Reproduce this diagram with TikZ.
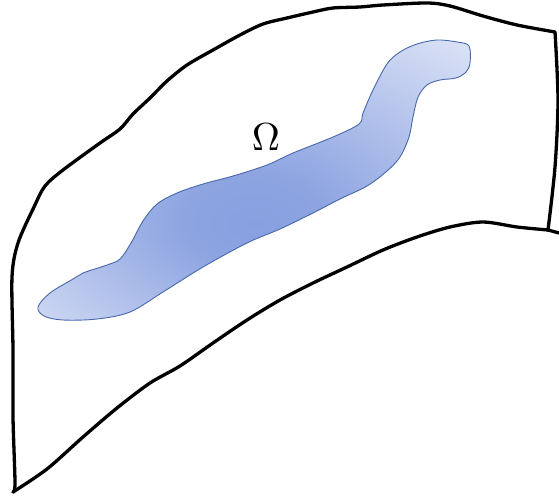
\documentclass[tikz,border=0pt]{standalone}
\usetikzlibrary{shadings}
\definecolor{blobdark}{RGB}{136,160,224}
\definecolor{bloblight}{RGB}{220,227,246}
\definecolor{blobline}{RGB}{72,104,172}
\pgfdeclareradialshading{blobshade}{\pgfpoint{0bp}{-8bp}}{color(0bp)=(blobdark); color(8bp)=(blobdark!94!bloblight); color(38bp)=(bloblight); color(70bp)=(bloblight)}
\tikzset{
  sheet/.style={line width=3.3pt, black, line join=round, line cap=round},
  blob/.style={draw=blobline, line width=0.9pt, shading=blobshade},
}
\begin{document}
\begin{tikzpicture}[x=1pt,y=-1pt]
\useasboundingbox (0,0) rectangle (559,500);
% blob
\path[blob] plot[smooth cycle, tension=0.55] coordinates {
 (38,307) (50,293) (73,279) (83,273) (107,265) (120,259) (131,243) (143,221)
 (157,204) (177,193) (203,184) (233,176) (267,165) (293,153) (333,137)
 (359,124) (363,113) (373,90) (387,64) (400,52) (417,44) (437,40) (457,42)
 (469,46) (470,63) (466,72) (456,78) (440,80) (427,85) (418,97) (413,117)
 (409,137) (400,157) (387,171) (367,186) (340,199) (313,213) (280,229)
 (247,243) (203,267) (163,292) (130,312) (97,319) (63,320) (44,316)
};
% sheet outline
\draw[sheet] plot[smooth, tension=0.5] coordinates {
 (555,32) (517,25) (483,16) (450,6) (427,3) (383,5) (360,7) (333,8) (313,12)
 (287,18) (263,24) (240,35) (213,50) (187,65) (167,81) (150,98) (133,114)
 (120,129) (100,143) (63,170) (45,186) (34,207) (18,243) (12,277) (13,350)
 (13,417) (15,483) (13,492)};
\draw[sheet] plot[smooth, tension=0.5] coordinates {
 (13,492) (47,469) (83,437) (117,408) (150,383) (180,366) (213,343) (247,320)
 (280,300) (313,283) (347,267) (383,250) (417,237) (450,227) (483,222)
 (517,227) (548,230)};
\draw[sheet] plot[smooth, tension=0.5] coordinates {
 (548,230) (555,167) (558,100) (555,32)};
\coordinate (tickend) at (559,233);
\coordinate (corner) at (548,230);
\draw[sheet] (corner) -- (tickend);
\node[inner sep=0pt, scale=3.9] (omega) at (266,137) {$\Omega$};
\end{tikzpicture}
\end{document}
